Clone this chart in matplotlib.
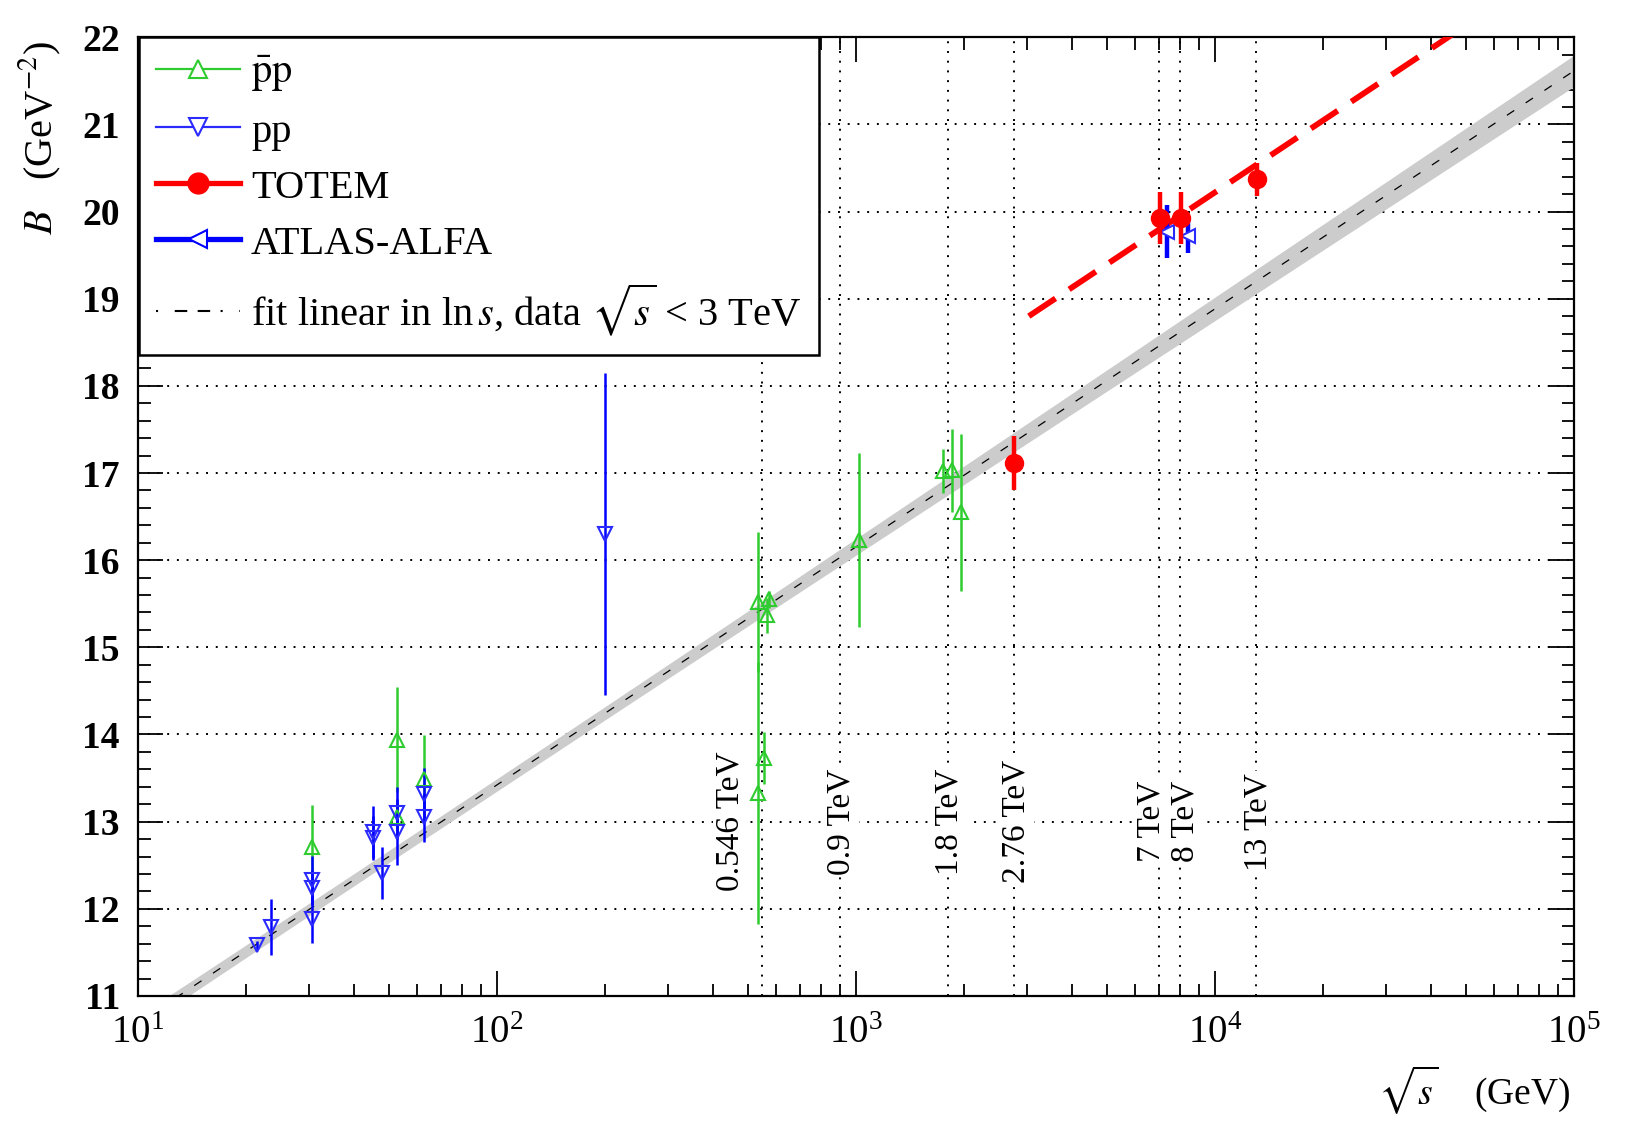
import numpy as np
import matplotlib
matplotlib.use('Agg')
import matplotlib.pyplot as plt
from matplotlib.lines import Line2D
from matplotlib.transforms import offset_copy
from matplotlib.ticker import MultipleLocator, LogLocator, NullFormatter

plt.rcParams['font.family'] = ['Liberation Serif', 'DejaVu Serif']
plt.rcParams['mathtext.fontset'] = 'stix'

# ---------------- data ----------------
# pbar-p
ppbar_sqrt_s = [30.6, 52.8, 52.8, 62.7, 533, 533, 554, 564, 572, 1020, 1750, 1850, 1960]
ppbar_B      = [12.71, 13.94, 13.05, 13.49, 15.52, 13.33, 13.73, 15.37, 15.55, 16.23, 17.02, 17.03, 16.55]
ppbar_err    = [0.48, 0.60, 0.15, 0.50, 0.80, 1.50, 0.30, 0.20, 0.10, 1.00, 0.25, 0.48, 0.90]

# p-p
pp_sqrt_s = [21.5, 23.5, 30.6, 30.6, 30.6, 45.2, 45.2, 47.9, 52.8, 52.8, 62.7, 62.7, 200.0]
pp_B      = [11.58, 11.79, 12.33, 12.24, 11.88, 12.88, 12.81, 12.41, 13.10, 12.88, 13.32, 13.05, 16.30]
pp_err    = [0.05, 0.32, 0.28, 0.20, 0.27, 0.30, 0.25, 0.30, 0.30, 0.38, 0.30, 0.28, 1.85]

# TOTEM
totem_sqrt_s = [2760, 7030, 8020, 13060]
totem_B      = [17.12, 19.93, 19.93, 20.37]
totem_err    = [0.31, 0.30, 0.30, 0.19]

# ATLAS-ALFA
atlas_sqrt_s = [7340, 8410]
atlas_B      = [19.77, 19.72]
atlas_err    = [0.30, 0.20]

# fit linear in ln s (data sqrt(s) < 3 TeV): B = b0 + b1 ln(s)
fit_b0, fit_b1 = 7.96, 0.593
# high-energy (TOTEM) line: B = b0 + b1 ln(s)
hi_b0, hi_b1 = 9.26, 0.595
hi_range = [3030, 1e5]

# energies marked by vertical lines
energy_lines_gev = [546, 900, 1800, 2760, 7000, 8000, 13000]
energy_labels = ["0.546 TeV", "0.9 TeV", "1.8 TeV", "2.76 TeV", "7 TeV", "8 TeV", "13 TeV"]
y_ticks = list(range(11, 23))

# ---------------- style ----------------
GREEN = '#2ecc2e'
PPBLUE = '#2b2bff'
BLUE = '#0000ff'
RED = '#ff0000'
label_dx_px = [-31, 2, 2, 2, -8, 5, 2]

fig = plt.figure(figsize=(16.25, 11.25), dpi=100)
ax = fig.add_axes([0.0849, 0.1147, 0.8837, 0.8522])
ax.set_xscale('log')
ax.set_xlim(10, 1e5)
ax.set_ylim(11, 22)

# horizontal dotted grid
for yv in y_ticks[1:-1]:
    ax.axhline(yv, color='k', lw=1.4, ls=(0, (1, 4)), zorder=0)

# vertical energy lines with labels
for e, lab, dx in zip(energy_lines_gev, energy_labels, label_dx_px):
    ax.axvline(e, color='k', lw=1.4, ls=(0, (1, 4)), zorder=0)
    tr = offset_copy(ax.get_xaxis_transform(), fig=fig, x=dx, y=0, units='dots')
    ax.text(e, (13.0 - 11) / 11, lab, rotation=90, ha='center', va='center',
            fontsize=24, transform=tr, zorder=1,
            bbox=dict(facecolor='white', edgecolor='none', pad=1.5))

# fit band + dashed line
xf = np.logspace(1, 5, 400)
lns = np.log(xf ** 2)
Bf = fit_b0 + fit_b1 * lns
hw = np.sqrt(0.07 ** 2 + (0.05 * (np.log10(xf) - 1.7)) ** 2)
ax.fill_between(xf, Bf - hw, Bf + hw, color='#cccccc', lw=0, zorder=2)
ax.plot(xf, Bf, color='k', lw=0.9, ls=(0, (7, 11)), zorder=3)

# high energy red dashed line
xh = np.logspace(np.log10(hi_range[0]), np.log10(hi_range[1]), 100)
ax.plot(xh, hi_b0 + hi_b1 * np.log(xh ** 2), color=RED, lw=4.2,
        ls=(0, (5.5, 2.8)), zorder=4, solid_capstyle='butt')

# data
ax.errorbar(ppbar_sqrt_s, ppbar_B, yerr=ppbar_err, fmt='^', ms=10, mew=1.5,
            mfc='none', mec=GREEN, ecolor=GREEN, elinewidth=1.8, capsize=0, zorder=5)
ax.errorbar(pp_sqrt_s, pp_B, yerr=pp_err, fmt='v', ms=10, mew=1.5,
            mfc='none', mec=PPBLUE, ecolor=BLUE, elinewidth=1.8, capsize=0, zorder=5)
ax.errorbar(atlas_sqrt_s, atlas_B, yerr=atlas_err, fmt='<', ms=10, mew=1.5,
            mfc='white', mec=PPBLUE, ecolor=BLUE, elinewidth=3.2, capsize=0, zorder=6)
ax.errorbar(totem_sqrt_s, totem_B, yerr=totem_err, fmt='o', ms=13,
            mfc=RED, mec=RED, ecolor=RED, elinewidth=3.2, capsize=0, zorder=7)

# axes / ticks
ax.yaxis.set_major_locator(MultipleLocator(1))
ax.yaxis.set_minor_locator(MultipleLocator(0.2))
ax.xaxis.set_major_locator(LogLocator(base=10, numticks=10))
ax.xaxis.set_minor_locator(LogLocator(base=10, subs=np.arange(2, 10), numticks=20))
ax.xaxis.set_minor_formatter(NullFormatter())
ax.tick_params(which='both', direction='in', top=True, right=True, colors='k')
ax.tick_params(which='major', length=18, width=1.3)
ax.tick_params(which='minor', length=9, width=1.3)
ax.tick_params(axis='y', which='major', labelsize=27, pad=13)
ax.tick_params(axis='x', which='major', labelsize=28, pad=14)
for lab in ax.get_yticklabels():
    lab.set_fontweight('bold')
for sp in ax.spines.values():
    sp.set_linewidth(1.6)

fig.text(40 / 1625, 1 - 41 / 1125, r"$B$   (GeV$^{-2}$)", rotation=90,
         ha='center', va='top', fontsize=29)
fig.text(1570 / 1625, 1 - 1090 / 1125, r"$\sqrt{s}$    (GeV)", ha='right',
         va='center', fontsize=27)

# legend
handles = [
    Line2D([], [], color=GREEN, lw=1.6, marker='^', ms=13, mfc='white', mec=GREEN, mew=1.5),
    Line2D([], [], color=PPBLUE, lw=1.6, marker='v', ms=13, mfc='white', mec=PPBLUE, mew=1.5),
    Line2D([], [], color=RED, lw=3.8, marker='o', ms=15, mfc=RED, mec=RED),
    Line2D([], [], color=BLUE, lw=3.8, marker='<', ms=13, mfc='white', mec=BLUE, mew=1.5),
    Line2D([], [], color='k', lw=1.5, ls=(0, (1, 8, 6, 5, 6, 5))),
]
labels = [r"$\bar{\mathrm{p}}\mathrm{p}$", "pp", "TOTEM", "ATLAS-ALFA",
          r"fit linear in ln$\,s$, data $\sqrt{s}$ < 3 TeV"]
leg = ax.legend(handles, labels, loc='upper left', bbox_to_anchor=(0.001, 1.0),
                borderaxespad=0, fontsize=29.2, frameon=True, fancybox=False,
                framealpha=1, edgecolor='k', handlelength=2.05, handletextpad=0.28,
                labelspacing=0.46, borderpad=0.42)
leg.get_frame().set_linewidth(1.8)
leg.set_zorder(10)

fig.savefig('out.png', dpi=100)
